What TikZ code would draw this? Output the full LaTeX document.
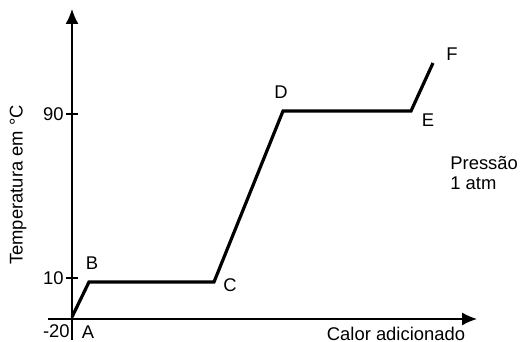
\documentclass[tikz,border=0pt]{standalone}
\usepackage{fontspec}
\setmainfont{Liberation Sans}
\usetikzlibrary{arrows.meta}
\begin{document}
\begin{tikzpicture}[x=0.5pt, y=0.5pt, every node/.style={font=\fontsize{9.2}{11}\selectfont, inner sep=0pt}]
\useasboundingbox (0,0) rectangle (520,342);
\coordinate (O) at (72,23);
\coordinate (Ybot) at (72,2);
\coordinate (Ytop) at (72,333);
\coordinate (Xleft) at (48,23);
\coordinate (Xright) at (477,23);
\coordinate (A) at (72,25);
\coordinate (B) at (89,60);
\coordinate (C) at (214,60);
\coordinate (D) at (283,231);
\coordinate (E) at (411,231);
\coordinate (F) at (433,279);
\coordinate (T10) at (72,64);
\coordinate (T90) at (72,228);
% axes
\draw [-{Latex[length=7.5pt, width=6.5pt]}, line width=0.65pt] (Ybot) -- (Ytop);
\draw [-{Latex[length=7.5pt, width=6.5pt]}, line width=0.65pt] (Xleft) -- (Xright);
\draw [line width=0.65pt] (T10) ++(-6,0) --++ (12,0);
\draw [line width=0.65pt] (T90) ++(-6,0) --++ (12,0);
% curve
\draw [line width=1.6pt, line join=miter] (A) -- (B) -- (C) -- (D) -- (E) -- (F);
% labels
\node (l90) [anchor=east] at (64,228) {90};
\node (l10) [anchor=east] at (64,64) {10};
\node (l20) [anchor=east] at (70,11) {-20};
\node (lA) at (88,10) {A};
\node (lB) at (92,79) {B};
\node (lC) at (230,57) {C};
\node (lD) at (281,250) {D};
\node (lE) at (428,222) {E};
\node (lF) at (452,288) {F};
\node (lP) [anchor=west] at (450,179) {Pressão};
\node (latm) [anchor=west] at (450,159) {1 atm};
\node (lx) at (396,8) {Calor adicionado};
\node (ly) [rotate=90] at (18,157) {Temperatura em °C};
\end{tikzpicture}
\end{document}
